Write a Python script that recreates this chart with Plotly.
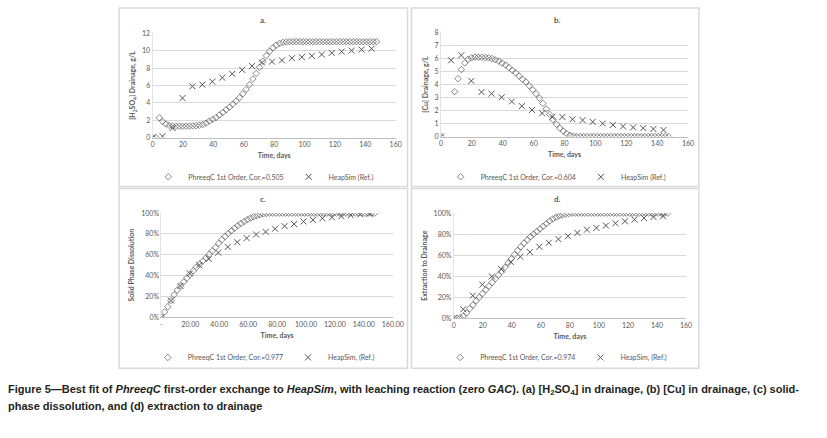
import plotly.graph_objects as go

# ---------------- data ----------------
t_phreeqc = [0, 2.2, 4.4, 6.6, 8.8, 11, 13.2, 15.4, 17.6, 19.8, 22, 24.2, 26.4, 28.6, 30.8, 33,
             35.2, 37.4, 39.6, 41.8, 44, 46.2, 48.4, 50.6, 52.8, 55, 57.2, 59.4, 61.6, 63.8, 66,
             68.2, 70.4, 72.6, 74.8, 77, 79.2, 81.4, 83.6, 85.8, 88, 90.2, 92.4, 94.6, 96.8, 99,
             101.2, 103.4, 105.6, 107.8, 110, 112.2, 114.4, 116.6, 118.8, 121, 123.2, 125.4,
             127.6, 129.8, 132, 134.2, 136.4, 138.6, 140.8, 143, 145.2, 147.4]
t_heapsim = [0, 6.55, 13.1, 19.65, 26.2, 32.75, 39.3, 45.85, 52.4, 58.95, 65.5, 72.05, 78.6,
             85.15, 91.7, 98.25, 104.8, 111.35, 117.9, 124.45, 131, 137.55, 144.1]

# (a) [H2SO4] drainage, g/L
h2so4_phreeqc = [0, 0, 2.28, 1.85, 1.55, 1.4, 1.33, 1.3, 1.3, 1.3, 1.31, 1.32, 1.34, 1.37, 1.42,
                 1.5, 1.65, 1.9, 2.1, 2.3, 2.6, 2.9, 3.2, 3.5, 3.85, 4.2, 4.6, 5.05, 5.55, 6.1,
                 6.75, 7.4, 8.1, 8.8, 9.45, 9.95, 10.35, 10.65, 10.85, 10.97, 11.02,
                 11.05, 11.05, 11.05, 11.05, 11.05, 11.05, 11.05, 11.05, 11.05, 11.05, 11.05,
                 11.05, 11.05, 11.05, 11.05, 11.05, 11.05, 11.05, 11.05, 11.05, 11.05, 11.05,
                 11.05, 11.05, 11.05, 11.05, 11.05]
h2so4_heapsim = [0, 0.15, 1.1, 4.55, 5.9, 6.1, 6.45, 6.9, 7.35, 7.8, 8.25, 8.65, 8.75, 8.9,
                 9.15, 9.27, 9.42, 9.57, 9.76, 9.91, 10.03, 10.14, 10.25]

# (b) [Cu] drainage, g/L
cu_phreeqc = [0, None, None, None, 3.45, 4.45, 5.15, 5.66, 5.95, 6.05, 6.1, 6.1, 6.1, 6.08,
              6.05, 6.0, 5.9, 5.8, 5.65, 5.5, 5.3, 5.1, 4.9, 4.65, 4.4, 4.2, 3.9, 3.6, 3.3,
              2.95, 2.55, 2.12, 1.7, 1.3, 0.95, 0.65, 0.42, 0.22, 0.1, 0.03,
              0, 0, 0, 0, 0, 0, 0, 0, 0, 0, 0, 0, 0, 0, 0, 0, 0, 0, 0, 0, 0, 0, 0, 0, 0, 0, 0, 0]
cu_heapsim = [0, 5.86, 6.24, 4.28, 3.42, 3.3, 3.02, 2.69, 2.34, 2.04, 1.79, 1.51, 1.51, 1.33,
              1.26, 1.13, 1.0, 0.9, 0.78, 0.7, 0.65, 0.58, 0.5]

# (c) solid phase dissolution, %
diss_phreeqc = [0, 5, 10, 16, 21.5, 26, 30, 34, 37.5, 41, 44.5, 48, 51, 54, 57, 60.5, 63.8, 67,
                71, 74.5, 77.5, 80.5, 83, 85.5, 88, 90, 92, 93.7, 95.2, 96.5, 97.6, 98.5, 99.2,
                99.6, 99.9,
                100, 100, 100, 100, 100, 100, 100, 100, 100, 100, 100, 100, 100, 100, 100, 100,
                100, 100, 100, 100, 100, 100, 100, 100, 100, 100, 100, 100, 100, 100, 100, 100, 100]
diss_heapsim = [0, 16, 30, 42, 50, 56, 62, 67.5, 72, 76, 79.5, 82, 85, 87.5, 89.5, 92, 93.5, 95,
                96, 97, 98, 99, 99.5]

# (d) extraction to drainage, %
ext_phreeqc = [0, 0, 0.5, 2, 5, 9, 12.5, 16.5, 20, 23.5, 27, 30.5, 34, 37.5, 41, 44.5, 48.5, 52.5,
               56.5, 60.5, 64.5, 68, 71.5, 74.5, 77.5, 80, 82.5, 85, 87.5, 90, 92.5, 94.5, 96,
               97.3, 98.3, 99, 99.6,
               100, 100, 100, 100, 100, 100, 100, 100, 100, 100, 100, 100, 100, 100, 100, 100,
               100, 100, 100, 100, 100, 100, 100, 100, 100, 100, 100, 100, 100, 100, 100]
ext_heapsim = [0, 8.5, 21.5, 32, 39.7, 46.5, 53.5, 58.5, 63, 68, 71.8, 75.2, 78, 81.2, 84.2, 86,
               88.2, 90.3, 92.2, 93.8, 95.3, 96.3, 97]

panel_titles = ["a.", "b.", "c.", "d."]
y_titles = ["<b>[H<sub>2</sub>SO<sub>4</sub>] Drainage, g/L</b>", "<b>[Cu] Drainage, g/L</b>",
            "<b>Solid Phase Dissolution</b>", "<b>Extraction to Drainage</b>"]
phreeqc_names = ["PhreeqC 1st Order, Cor.=0.505", "PhreeqC 1st Order, Cor.=0.604",
                 "PhreeqC 1st Order, Cor.=0.977", "PhreeqC 1st Order, Cor.=0.974"]
heapsim_names = ["HeapSim (Ref.)", "HeapSim (Ref.)", "HeapSim, (Ref.)", "HeapSim, (Ref.)"]
x_ticks = [0, 20, 40, 60, 80, 100, 120, 140, 160]
x_ticktext_c = ["-", "20.00", "40.00", "60.00", "80.00", "100.00", "120.00", "140.00", "160.00"]
y_ticks_a = [0, 2, 4, 6, 8, 10, 12]
y_ticks_b = [0, 1, 2, 3, 4, 5, 6, 7, 8]
y_ticks_pct = [0, 20, 40, 60, 80, 100]
y_ticktext_pct = ["0%", "20%", "40%", "60%", "80%", "100%"]

series_phreeqc = [h2so4_phreeqc, cu_phreeqc, diss_phreeqc, ext_phreeqc]
series_heapsim = [h2so4_heapsim, cu_heapsim, diss_heapsim, ext_heapsim]

# ---------------- layout helpers ----------------
W, H = 827, 438
def fx(p): return p / W
def fy(p): return 1 - p / H

FONT = "Lato, Liberation Sans, sans-serif"
GREY = "#595959"

# plot-area pixel boxes: (left, right, top, bottom)
areas = [(153, 400, 29, 135), (446, 697, 28, 134), (162, 397, 212, 318), (459, 695, 212, 319)]
frames = [(119, 412, 3, 185), (416, 708, 3, 185), (119, 412, 187, 370), (416, 708, 187, 370)]
title_pos = [(265, 15), (564, 15), (265, 198), (564, 198)]
legend_pos = [(266, 175), (563, 175), (266, 359), (563, 359)]

fig = go.Figure()
layout = dict(width=W, height=H, margin=dict(l=0, r=0, t=0, b=0),
              paper_bgcolor="white", plot_bgcolor="white", showlegend=True,
              font=dict(family=FONT, size=7, color=GREY))
shapes, annotations = [], []

for i in range(4):
    sfx = "" if i == 0 else str(i + 1)
    leg = "legend" if i == 0 else "legend" + str(i + 1)
    fig.add_trace(go.Scatter(
        x=t_phreeqc, y=series_phreeqc[i], mode="markers", name=phreeqc_names[i],
        xaxis="x" + sfx, yaxis="y" + sfx, legend=leg,
        marker=dict(symbol="diamond-open", size=5, color="#555555", line=dict(width=0.7))))
    fig.add_trace(go.Scatter(
        x=t_heapsim, y=series_heapsim[i], mode="markers", name=heapsim_names[i],
        xaxis="x" + sfx, yaxis="y" + sfx, legend=leg,
        marker=dict(symbol="x-thin-open", size=6, color="#555555", line=dict(width=1))))

    l, r, t, b = areas[i]
    xa = dict(domain=[fx(l), fx(r)], range=[0, 160], anchor="y" + sfx,
              tickvals=x_ticks, showgrid=False, zeroline=False,
              showline=True, linecolor="#bfbfbf", linewidth=1, ticks="",
              tickfont=dict(size=7, color=GREY, family=FONT),
              title=dict(text="<b>Time, days</b>", font=dict(size=7, color=GREY, family=FONT),
                         standoff=6))
    if i == 2:
        xa["ticktext"] = x_ticktext_c
    ya = dict(domain=[fy(b), fy(t)], anchor="x" + sfx, showgrid=True, gridcolor="#d9d9d9",
              gridwidth=1, zeroline=False, showline=True, linecolor="#e3e3e3", ticks="",
              tickfont=dict(size=7, color=GREY, family=FONT),
              title=dict(text=y_titles[i], font=dict(size=7, color=GREY, family=FONT), standoff=5))
    if i == 0:
        ya.update(range=[0, 12], tickvals=y_ticks_a)
    elif i == 1:
        ya.update(range=[0, 8], tickvals=y_ticks_b)
    else:
        ya.update(range=[0, 100], tickvals=y_ticks_pct, ticktext=y_ticktext_pct)
    layout["xaxis" + sfx] = xa
    layout["yaxis" + sfx] = ya

    lx, ly = legend_pos[i]
    layout[leg] = dict(x=fx(lx), y=fy(ly), xanchor="center", yanchor="middle",
                       orientation="h", font=dict(size=7, color=GREY, family=FONT),
                       bgcolor="rgba(0,0,0,0)", itemwidth=30, tracegroupgap=0)

    fl, fr, ft, fb = frames[i]
    shapes.append(dict(type="rect", xref="paper", yref="paper", x0=fx(fl), x1=fx(fr),
                       y0=fy(fb), y1=fy(ft), line=dict(color="#d9d9d9", width=1.5),
                       fillcolor="rgba(0,0,0,0)", layer="below"))
    tx, ty = title_pos[i]
    annotations.append(dict(text="<b>" + panel_titles[i] + "</b>", x=fx(tx), y=fy(ty),
                            xref="paper", yref="paper", xanchor="center", yanchor="middle",
                            showarrow=False, font=dict(size=8, color=GREY, family=FONT)))

CAP = "Liberation Sans, Arial, sans-serif"
annotations.append(dict(
    text="<b>Figure 5—Best fit of <i>PhreeqC</i> first-order exchange to <i>HeapSim</i>, with leaching "
         "reaction (zero <i>GAC</i>). (a) [H<sub>2</sub>SO<sub>4</sub>] in drainage, (b) [Cu] in "
         "drainage, (c) solid-</b>",
    x=fx(4), y=fy(392), xref="paper", yref="paper", xanchor="left", yanchor="middle",
    showarrow=False, font=dict(size=11, color="#231f20", family=CAP)))
annotations.append(dict(
    text="<b>phase dissolution, and (d) extraction to drainage</b>",
    x=fx(4), y=fy(408), xref="paper", yref="paper", xanchor="left", yanchor="middle",
    showarrow=False, font=dict(size=11, color="#231f20", family=CAP)))

layout["shapes"] = shapes
layout["annotations"] = annotations
fig.update_layout(**layout)
fig.write_html("out.html", config={"displayModeBar": False},
               post_script="document.body.style.margin='0px';")
